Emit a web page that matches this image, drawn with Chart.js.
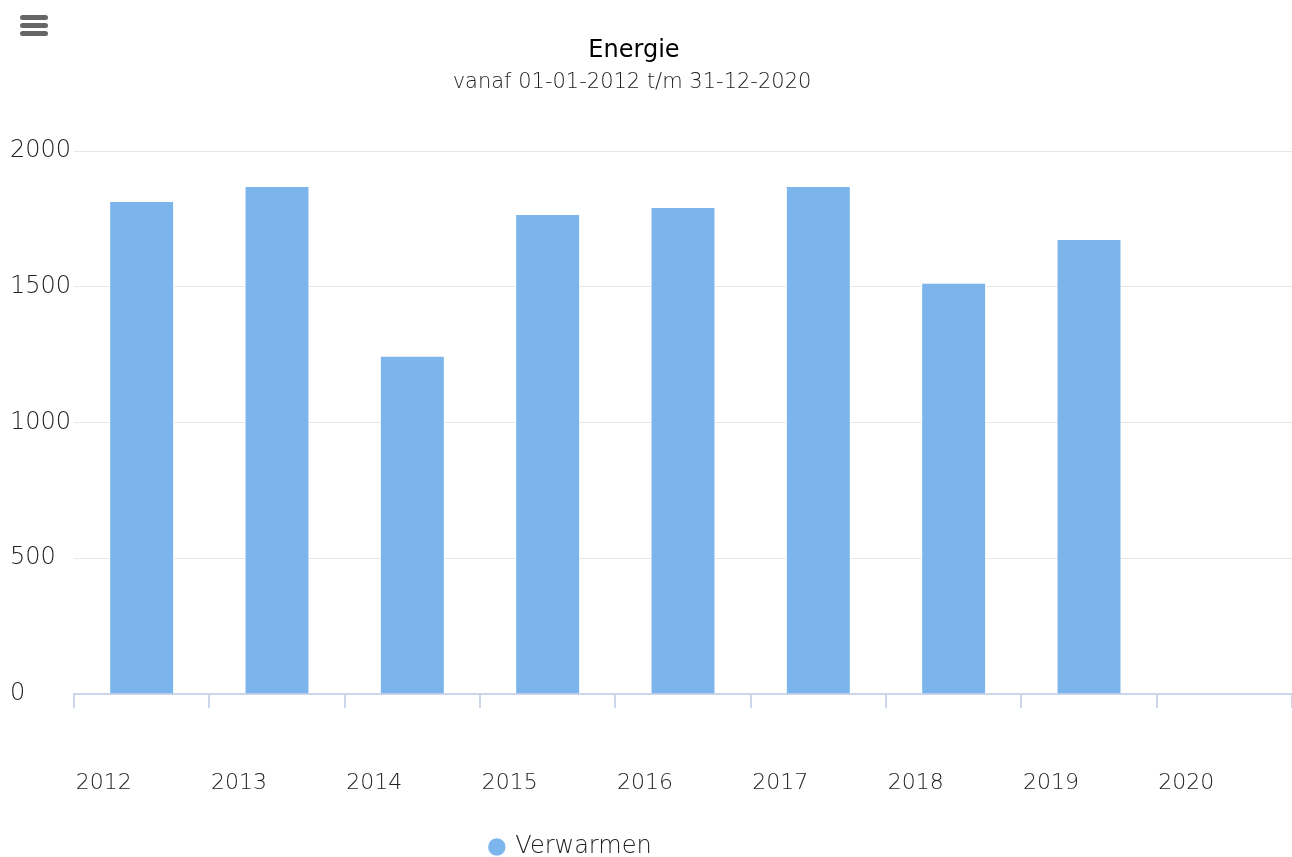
<!DOCTYPE html>
<html>
<head>
<meta charset="utf-8">
<script src="https://cdn.jsdelivr.net/npm/chart.js@4.4.1/dist/chart.umd.min.js"></script>
<style>
  html, body { margin: 0; padding: 0; background: #fff; }
  #wrap { position: relative; width: 1292px; height: 857px; }
  #menu { position: absolute; left: 20px; top: 15px; width: 28px; }
  #menu span { display: block; height: 5px; border-radius: 3px; background: #666; margin-bottom: 3px; }
</style>
</head>
<body>
<div id="wrap">
  <canvas id="myChart"></canvas>
  <div id="menu"><span></span><span></span><span></span></div>
</div>
<script>
// chart data
const years = ['2012', '2013', '2014', '2015', '2016', '2017', '2018', '2019', '2020'];
const verwarmen = [1816, 1871, 1246, 1768, 1794, 1871, 1515, 1676, null];
const yTicks = [0, 500, 1000, 1500, 2000];

const titleText = 'Energie';
const subtitleText = 'vanaf 01-01-2012 t/m 31-12-2020';
const fontFam = "'DejaVu Sans', sans-serif";

// move the title / subtitle / legend boxes sideways (and the legend down a bit)
const nudge = {
  id: 'nudge',
  afterLayout(chart) {
    const shift = (box, dx, dy) => {
      if (!box) return;
      box.left += dx; box.right += dx;
      box.top += dy; box.bottom += dy;
    };
    chart.boxes.forEach(b => {
      if (b === chart.legend) shift(b, -80, 12);
      else if (b.options && b.options.text === titleText) shift(b, -17, 0);
      else if (b.options && b.options.text === subtitleText) shift(b, -19, 0);
    });
  }
};

const ctx = document.getElementById('myChart').getContext('2d');
const myChart = new Chart(ctx, {
  type: 'bar',
  data: {
    labels: years,
    datasets: [{
      label: 'Verwarmen',
      data: verwarmen,
      backgroundColor: '#7cb5ec',
      borderColor: '#ffffff',
      borderWidth: 1,
      barPercentage: 0.48,
      categoryPercentage: 1
    }]
  },
  plugins: [nudge],
  options: {
    responsive: true,
    maintainAspectRatio: false,
    animation: false,
    layout: { padding: { left: 10, right: 0, top: 0, bottom: 0 } },
    plugins: {
      title: {
        display: true,
        text: titleText,
        color: '#000',
        font: { family: fontFam, size: 24, weight: 'normal' },
        padding: { top: 36, bottom: 0 }
      },
      subtitle: {
        display: true,
        text: subtitleText,
        color: '#222',
        font: { family: fontFam, size: 21, weight: 200 },
        padding: { top: 5, bottom: 56 }
      },
      legend: {
        position: 'bottom',
        labels: {
          usePointStyle: true,
          pointStyle: 'circle',
          boxWidth: 13,
          boxHeight: 13,
          padding: 0,
          color: '#222',
          font: { family: fontFam, size: 24, weight: 200 }
        }
      },
      tooltip: { enabled: false }
    },
    scales: {
      x: {
        grid: {
          offset: true,
          drawOnChartArea: false,
          drawTicks: true,
          tickLength: 14,
          color: '#ccd6eb',
          lineWidth: 2
        },
        border: { display: true, color: '#ccd6eb', width: 2 },
        ticks: {
          color: '#222',
          font: { family: fontFam, size: 22, weight: 200 },
          padding: 62,
          labelOffset: -38,
          maxRotation: 0
        },
        afterFit: (s) => { s.height = 129; s.paddingLeft = 0; s.paddingRight = 0; }
      },
      y: {
        min: 0,
        max: 2000,
        afterBuildTicks: (s) => { s.ticks = yTicks.map(v => ({ value: v })); },
        grid: { color: '#e6e6e6', lineWidth: 1, drawTicks: false },
        border: { display: false },
        ticks: {
          color: '#222',
          crossAlign: 'far',
          padding: 8,
          font: { family: fontFam, size: 24, weight: 200 },
          callback: (v) => String(v)
        },
        afterFit: (s) => { s.width = 64; }
      }
    }
  }
});
</script>
</body>
</html>
